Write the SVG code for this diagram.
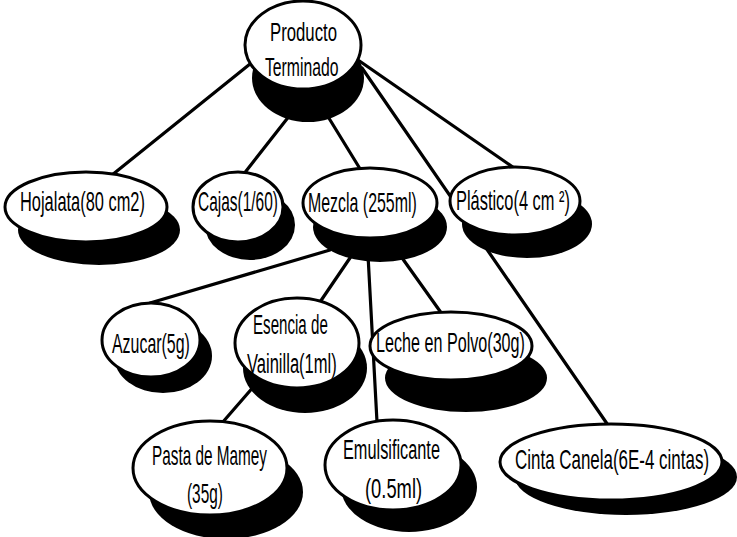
<svg xmlns="http://www.w3.org/2000/svg" width="737" height="537" viewBox="0 0 737 537">
<style>
.bg{fill:#ffffff}
.sh{fill:#000000}
.nd{fill:#ffffff;stroke:#000000;stroke-width:3}
.t{font-family:"Liberation Sans","DejaVu Sans",sans-serif;font-size:27px;fill:#000000}
.s{font-size:25px}
.c line{stroke:#000000;stroke-width:3.2;stroke-linecap:round}
</style>
<rect class="bg" x="0" y="0" width="737" height="537"/>
<g id="connectors" class="c">
<line x1="250" y1="64" x2="112" y2="175"/>
<line x1="290" y1="115" x2="243" y2="175"/>
<line x1="327" y1="115" x2="362" y2="172"/>
<line x1="358" y1="60" x2="517" y2="170"/>
<line x1="362" y1="68" x2="610" y2="428"/>
<line x1="330" y1="250" x2="150" y2="303"/>
<line x1="352" y1="255" x2="320" y2="302"/>
<line x1="368" y1="255" x2="377" y2="422"/>
<line x1="400" y1="255" x2="442" y2="314"/>
<line x1="255" y1="385" x2="222" y2="423"/>
</g>
<g id="producto">
<ellipse class="sh" cx="308" cy="78" rx="56" ry="44"/>
<ellipse class="nd" cx="303" cy="45" rx="58" ry="44"/>
<text class="t s" transform="translate(270,41) scale(0.67,1)">Producto</text>
<text class="t s" transform="translate(265,76) scale(0.63,1)">Terminado</text>
</g>
<g id="hojalata">
<ellipse class="sh" cx="99" cy="230" rx="81" ry="35"/>
<ellipse class="nd" cx="86" cy="207" rx="81" ry="35"/>
<text class="t" transform="translate(20,211) scale(0.608,1)">Hojalata(80 cm2)</text>
</g>
<g id="cajas">
<ellipse class="sh" cx="250" cy="225" rx="45" ry="35"/>
<ellipse class="nd" cx="238" cy="207" rx="45" ry="35"/>
<text class="t" transform="translate(198,211) scale(0.573,1)">Cajas(1/60)</text>
</g>
<g id="mezcla">
<ellipse class="sh" cx="380" cy="227" rx="67" ry="35"/>
<ellipse class="nd" cx="370" cy="203" rx="67" ry="35"/>
<text class="t" transform="translate(308,212) scale(0.59,1)">Mezcla (255ml)</text>
</g>
<g id="plastico">
<ellipse class="sh" cx="527" cy="224" rx="65" ry="34"/>
<ellipse class="nd" cx="515" cy="201" rx="65" ry="34"/>
<text class="t" transform="translate(456,210) scale(0.608,1)">Plástico(4 cm ²)</text>
</g>
<g id="azucar">
<ellipse class="sh" cx="163" cy="356" rx="49" ry="37"/>
<ellipse class="nd" cx="151" cy="340" rx="49" ry="37"/>
<text class="t" transform="translate(112,353) scale(0.59,1)">Azucar(5g)</text>
</g>
<g id="esencia">
<ellipse class="sh" cx="305" cy="368" rx="62" ry="45"/>
<ellipse class="nd" cx="297" cy="343" rx="62" ry="45"/>
<text class="t" transform="translate(253,334) scale(0.56,1)">Esencia de</text>
<text class="t" transform="translate(247,373) scale(0.613,1)">Vainilla(1ml)</text>
</g>
<g id="leche">
<ellipse class="sh" cx="466" cy="378" rx="81" ry="34"/>
<ellipse class="nd" cx="451" cy="346" rx="81" ry="34"/>
<text class="t" transform="translate(376,352) scale(0.598,1)">Leche en Polvo(30g)</text>
</g>
<g id="pasta">
<ellipse class="sh" cx="226" cy="492" rx="77" ry="47"/>
<ellipse class="nd" cx="210" cy="468" rx="77" ry="47"/>
<text class="t" transform="translate(152,465) scale(0.568,1)">Pasta de Mamey</text>
<text class="t" transform="translate(187,503) scale(0.57,1)">(35g)</text>
</g>
<g id="emulsificante">
<ellipse class="sh" cx="409" cy="487" rx="68" ry="45"/>
<ellipse class="nd" cx="393" cy="465" rx="68" ry="45"/>
<text class="t" transform="translate(343,459) scale(0.604,1)">Emulsificante</text>
<text class="t" transform="translate(365,498) scale(0.68,1)">(0.5ml)</text>
</g>
<g id="cinta">
<ellipse class="sh" cx="626" cy="477" rx="111" ry="38"/>
<ellipse class="nd" cx="611" cy="462" rx="111" ry="38"/>
<text class="t" transform="translate(515,469) scale(0.628,1)">Cinta Canela(6E-4 cintas)</text>
</g>
</svg>
